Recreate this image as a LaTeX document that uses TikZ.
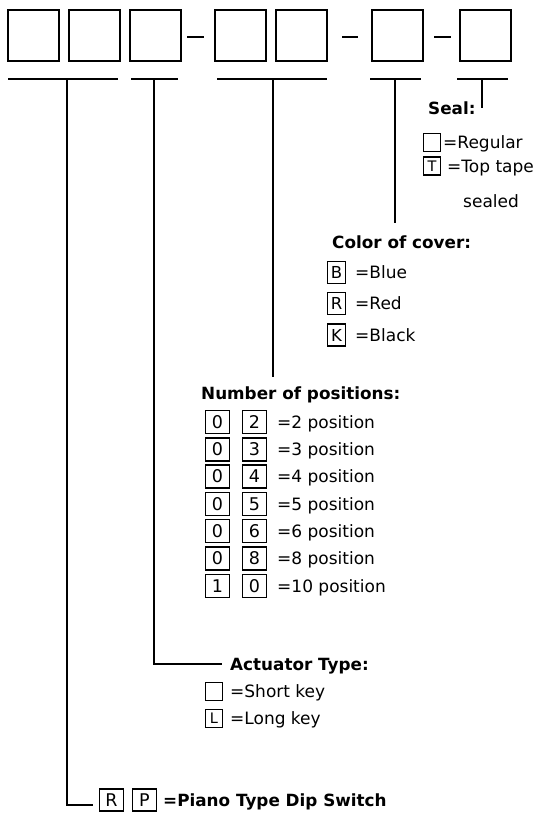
\documentclass[tikz,border=0pt]{standalone}
\usepackage{fontspec}
\setmainfont{DejaVu Sans}
\begin{document}
\begin{tikzpicture}[x=1pt,y=-1pt,
  big/.style={draw, line width=2pt, minimum width=51pt, minimum height=51pt, inner sep=0pt},
  sbox/.style={draw, line width=1.5pt, inner sep=0pt, text height=12.5pt, text depth=0pt,
     font=\fontsize{17.5}{17.5}\selectfont},
  numbox/.style={sbox, minimum width=24pt, minimum height=23pt},
  colbox/.style={sbox, minimum width=18pt, minimum height=22pt, font=\fontsize{16.5}{16.5}\selectfont, text height=12pt},
  sealbox/.style={sbox, minimum width=17pt, minimum height=18pt, font=\fontsize{14.5}{14.5}\selectfont, text height=10.5pt},
  lbl/.style={anchor=west, inner sep=0pt, text height=12.4pt, text depth=0pt, font=\fontsize{17}{17}\selectfont},
  hdr/.style={anchor=west, inner sep=0pt, text height=12.3pt, text depth=0pt, font=\bfseries\fontsize{16.8}{16.8}\selectfont},
  ln/.style={line width=2pt}]
\useasboundingbox[fill=white] (0,0) rectangle (538,814);

% top boxes
\node[big] (b1) at (33.5,35) {};
\node[big] (b2) at (94.5,35) {};
\node[big] (b3) at (155,35) {};
\node[big] (b4) at (240.5,35) {};
\node[big] (b5) at (301,35) {};
\node[big] (b6) at (397.5,35) {};
\node[big] (b7) at (485,35) {};
% dashes
\draw[ln] (187,37) -- (204,37);
\draw[ln] (342,37) -- (358,37);
\draw[ln] (434,37) -- (451,37);
% underlines
\draw[ln] (8,79) -- (118,79);
\draw[ln] (131,79) -- (178,79);
\draw[ln] (217,79) -- (327,79);
\draw[ln] (370,79) -- (421,79);
\draw[ln] (457,79) -- (508,79);
\coordinate (t1) at (67,79);
\coordinate (t2) at (154,79);
\coordinate (t3) at (273,79);
\coordinate (t4) at (395,79);
\coordinate (t5) at (482,79);

% Seal
\node[hdr] (seal) at (428,108) {Seal:};
\coordinate (e5) at (482,108);
\draw[ln] (t5) -- (e5);
\node[sealbox] (sr) at (432,142.5) {};
\node[lbl, anchor=west] (srt) at (443,142.5) {=Regular};
\node[sealbox] (st) at (432,166) {T};
\node[lbl] (stt) at (447,166) {=Top tape};
\node[lbl] (stt2) at (463,201) {sealed};

% Color of cover
\coordinate (e4) at (395,223);
\draw[ln] (t4) -- (e4);
\node[hdr] (col) at (332,242) {Color of cover:};
\node[colbox] (cb) at (336.5,272.5) {B};
\node[lbl] at (355,272.5) {=Blue};
\node[colbox] (cr) at (336.5,303.5) {R};
\node[lbl] at (355,303.5) {=Red};
\node[colbox] (ck) at (336.5,335) {K};
\node[lbl] at (355,335) {=Black};

% Number of positions
\coordinate (e3) at (273,377);
\draw[ln] (t3) -- (e3);
\node[hdr] (num) at (201,393) {Number of positions:};
\foreach \a/\b/\t [count=\i from 0] in {0/2/=2 position,0/3/=3 position,0/4/=4 position,0/5/=5 position,0/6/=6 position,0/8/=8 position,1/0/=10 position}{
  \node[numbox] (na\i) at (217.5,422+27.3*\i) {\a};
  \node[numbox] (nb\i) at (254.5,422+27.3*\i) {\b};
  \node[lbl] (nt\i) at (277,422+27.3*\i) {\t};
}

% Actuator type
\node[hdr] (act) at (230,664) {Actuator Type:};
\draw[ln] (t2) |- ([xshift=-8pt]act.west);
\node[sealbox] (as) at (214,691.5) {};
\node[lbl] at (230,691.5) {=Short key};
\node[sealbox] (al) at (214,718.5) {L};
\node[lbl] at (230,718.5) {=Long key};

% Piano type
\node[numbox, minimum height=22pt] (rp1) at (111.5,800) {R};
\node[numbox, minimum height=22pt] (rp2) at (144.5,800) {P};
\node[hdr] (pt) at (163,800) {=Piano Type Dip Switch};
\coordinate (e1) at (93,805);
\draw[ln] (t1) |- (e1);
\end{tikzpicture}
\end{document}
